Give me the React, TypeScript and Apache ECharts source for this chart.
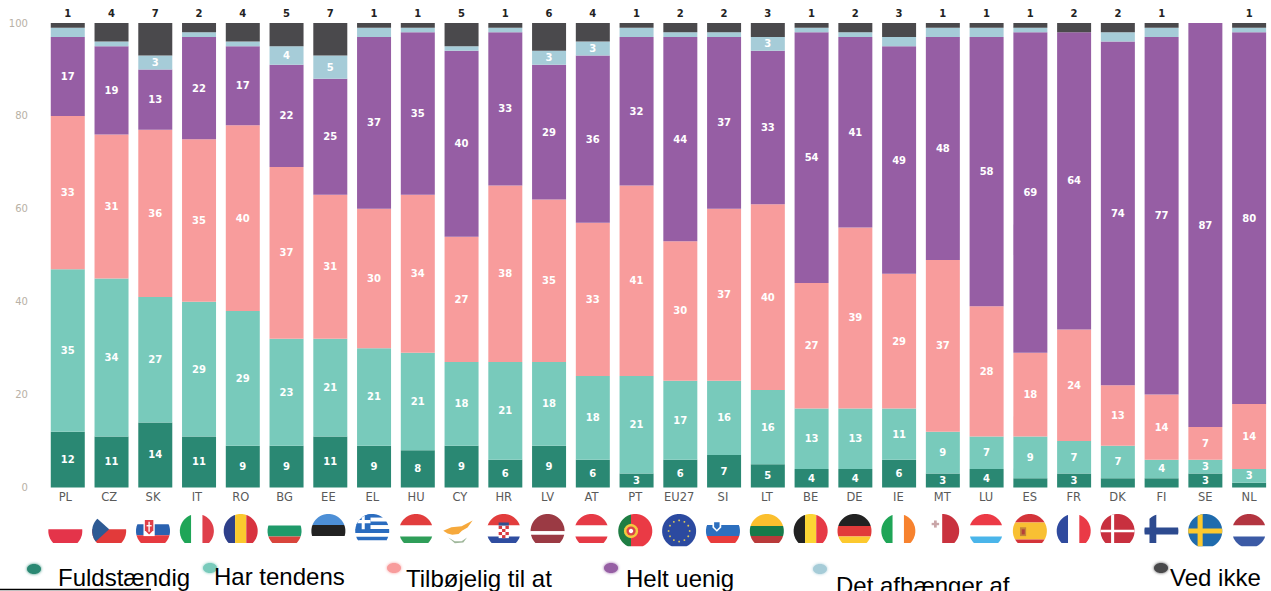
import React, { useEffect, useRef } from "react";
import * as echarts from "echarts";

const categories = ["PL","CZ","SK","IT","RO","BG","EE","EL","HU","CY","HR","LV","AT","PT","EU27","SI","LT","BE","DE","IE","MT","LU","ES","FR","DK","FI","SE","NL"];
const fuldstaendig = [12,11,14,11,9,9,11,9,8,9,6,9,6,3,6,7,5,4,4,6,3,4,2,3,2,2,3,1];
const harTendens = [35,34,27,29,29,23,21,21,21,18,21,18,18,21,17,16,16,13,13,11,9,7,9,7,7,4,3,3];
const tilboejelig = [33,31,36,35,40,37,31,30,34,27,38,35,33,41,30,37,40,27,39,29,37,28,18,24,13,14,7,14];
const heltUenig = [17,19,13,22,17,22,25,37,35,40,33,29,36,32,44,37,33,54,41,49,48,58,69,64,74,77,87,80];
const detAfhaenger = [2,1,3,1,1,4,5,2,1,1,1,3,3,2,1,1,3,1,1,2,2,2,1,0,2,2,0,1];
const vedIkke = [1,4,7,2,4,5,7,1,1,5,1,6,4,1,2,2,3,1,2,3,1,1,1,2,2,1,0,1];
const yTicks = [0, 20, 40, 60, 80, 100];

const legendItems = [
  { name: "Fuldstændig", color: "#2a8873", dotX: 34, dotY: 569, textX: 58, textY: 577 },
  { name: "Har tendens", color: "#78cabb", dotX: 210, dotY: 568, textX: 214, textY: 576 },
  { name: "Tilbøjelig til at", color: "#f89c9c", dotX: 394, dotY: 568, textX: 406, textY: 578 },
  { name: "Helt uenig", color: "#965ea4", dotX: 611, dotY: 568, textX: 626, textY: 578 },
  { name: "Det afhænger af", color: "#a6ccd8", dotX: 820, dotY: 569, textX: 836, textY: 585 },
  { name: "Ved ikke", color: "#4a494c", dotX: 1161, dotY: 568, textX: 1170, textY: 577 },
];

type Pt = [number, number];
type Part = { c: string; p: Pt[]; free?: boolean };

const rect = (c: string, x0: number, y0: number, x1: number, y1: number): Part => ({
  c, p: [[x0, y0], [x1, y0], [x1, y1], [x0, y1]],
});
const hBands = (cols: string[], edges: number[]): Part[] =>
  cols.map((c, i) => rect(c, -1, edges[i], 1, edges[i + 1]));
const vBands = (cols: string[], edges: number[]): Part[] =>
  cols.map((c, i) => rect(c, edges[i], -1, edges[i + 1], 1));
const T3 = [-1, -0.33, 0.33, 1];
const disc = (c: string, x: number, y: number, r: number): Part => {
  const p: Pt[] = [];
  for (let i = 0; i < 16; i++) {
    const a = (i / 16) * Math.PI * 2;
    p.push([x + r * Math.cos(a), y + r * Math.sin(a)]);
  }
  return { c, p, free: true };
};

const greek = (): Part[] => {
  const out: Part[] = [];
  const b = "#2a6cbf";
  for (let i = 0; i < 9; i++) {
    out.push(rect(i % 2 ? "#ffffff" : b, -1, -1 + (i * 2) / 9, 1, -1 + ((i + 1) * 2) / 9));
  }
  out.push(rect(b, -1, -1, -0.1, -0.11));
  out.push(rect("#ffffff", -0.62, -1, -0.44, -0.11));
  out.push(rect("#ffffff", -1, -0.64, -0.1, -0.46));
  return out;
};

const croatia = (): Part[] => {
  const out = hBands(["#e23d3d", "#ffffff", "#2f4da0"], T3);
  out.push(rect("#ffffff", -0.3, -0.3, 0.3, 0.42));
  for (let r = 0; r < 4; r++) {
    for (let q = 0; q < 3; q++) {
      if ((r + q) % 2 === 0) {
        out.push({ ...rect("#d93a40", -0.3 + q * 0.2, -0.3 + r * 0.18, -0.1 + q * 0.2, -0.12 + r * 0.18), free: true });
      }
    }
  }
  out.push({ ...rect("#34508f", -0.3, -0.5, 0.3, -0.32), free: true });
  return out;
};

const euStars = (): Part[] => {
  const out: Part[] = [rect("#2c4aa0", -1, -1, 1, 1)];
  for (let i = 0; i < 12; i++) {
    const a = (i / 12) * Math.PI * 2;
    out.push(disc("#d9c65a", 0.62 * Math.cos(a), 0.62 * Math.sin(a), 0.055));
  }
  return out;
};

const flags: Record<string, { parts: Part[]; full?: boolean }> = {
  PL: { parts: hBands(["#ffffff", "#e4344a"], [-1, -0.1, 1]) },
  CZ: { parts: [...hBands(["#ffffff", "#e23a3a"], [-1, -0.1, 1]), { c: "#2e5a94", p: [[-1, -1], [0, -0.1], [-1, 0.8]] }] },
  SK: { parts: [...hBands(["#ffffff", "#2a62b0", "#e63a40"], [-1, -0.4, 0.25, 1]),
    { ...rect("#ffffff", -0.56, -0.72, 0.1, 0.3), free: true },
    { c: "#e04048", p: [[-0.48, -0.65], [0.02, -0.65], [0.02, -0.05], [-0.23, 0.2], [-0.48, -0.05]], free: true },
    { ...rect("#ffffff", -0.27, -0.55, -0.19, 0.05), free: true },
    { ...rect("#ffffff", -0.38, -0.35, -0.08, -0.27), free: true }] },
  IT: { parts: vBands(["#1fa557", "#ffffff", "#df3f4a"], T3) },
  RO: { parts: vBands(["#2e3f8a", "#fbc92e", "#d8333f"], T3) },
  BG: { parts: hBands(["#ffffff", "#1f9a6a", "#d9453c"], T3) },
  EE: { parts: hBands(["#4d8fd6", "#222222", "#ffffff"], [-1, -0.35, 0.3, 1]) },
  EL: { parts: greek() },
  HU: { parts: hBands(["#e23d3d", "#ffffff", "#2f9e59"], T3) },
  CY: { parts: [
    { c: "#f6a93c", free: true, p: [[-0.98, -0.02], [-0.5, -0.22], [0.1, -0.28], [0.38, -0.42], [0.75, -0.62], [0.45, -0.2], [0.12, -0.02], [-0.08, 0.18], [-0.45, 0.22], [-0.72, 0.15]] },
    { c: "#9fb79a", free: true, p: [[-0.68, 0.38], [-0.3, 0.6], [0.1, 0.6], [0.42, 0.38], [0.2, 0.68], [-0.3, 0.72]] },
  ] },
  HR: { parts: croatia() },
  LV: { parts: hBands(["#9b3a44", "#ffffff", "#9b3a44"], [-1, 0.02, 0.22, 1]) },
  AT: { parts: hBands(["#e63a46", "#ffffff", "#e63a46"], T3) },
  PT: { full: true, parts: [...vBands(["#1e7d43", "#ea3a45"], [-1, -0.25, 1]),
    disc("#f4c83e", -0.25, 0, 0.42), disc("#d9434a", -0.25, 0, 0.27), disc("#ffffff", -0.25, 0, 0.13)] },
  EU27: { full: true, parts: euStars() },
  SI: { parts: [...hBands(["#ffffff", "#2d6fbe", "#e83c3c"], [-1, -0.35, 0.3, 1]),
    { c: "#ffffff", free: true, p: [[-0.62, -0.62], [-0.1, -0.62], [-0.1, -0.2], [-0.36, 0.05], [-0.62, -0.2]] },
    { c: "#2d6fbe", free: true, p: [[-0.52, -0.52], [-0.2, -0.52], [-0.2, -0.24], [-0.36, -0.08], [-0.52, -0.24]] }] },
  LT: { parts: hBands(["#fbbf2e", "#177a4a", "#b93a3a"], [-1, -0.3, 0.3, 1]) },
  BE: { parts: vBands(["#222222", "#fcd634", "#e63a46"], T3) },
  DE: { parts: hBands(["#222222", "#e13a3a", "#fcc92e"], [-1, -0.3, 0.32, 1]) },
  IE: { parts: vBands(["#1fa557", "#ffffff", "#f7822e"], T3) },
  MT: { parts: [...vBands(["#ffffff", "#c9323e"], [-1, 0, 1]),
    { ...rect("#c9a6a8", -0.48, -0.62, -0.32, -0.2), free: true },
    { ...rect("#c9a6a8", -0.62, -0.48, -0.18, -0.34), free: true }] },
  LU: { parts: hBands(["#ec3a46", "#ffffff", "#4ab5ea"], T3) },
  ES: { parts: [...hBands(["#d4343a", "#f8c033", "#d4343a"], [-1, -0.5, 0.5, 1]),
    { ...rect("#c4843a", -0.58, -0.22, -0.22, 0.3), free: true },
    { ...rect("#b5413a", -0.48, -0.1, -0.3, 0.2), free: true }] },
  FR: { parts: vBands(["#2f4a9e", "#ffffff", "#ea3a46"], T3) },
  DK: { parts: [rect("#c8303f", -1, -1, 1, 1), rect("#ffffff", -0.38, -1, -0.2, 1), rect("#ffffff", -1, -0.08, 1, 0.08)] },
  FI: { parts: [rect("#ffffff", -1, -1, 1, 1), rect("#2d4a8f", -0.7, -1, -0.3, 1), rect("#2d4a8f", -1, -0.2, 1, 0.2)] },
  SE: { full: true, parts: [rect("#1f6bad", -1, -1, 1, 1), rect("#fcc92e", -0.45, -1, -0.15, 1), rect("#fcc92e", -1, -0.15, 1, 0.15)] },
  NL: { full: true, parts: hBands(["#b33540", "#ffffff", "#3b5aa5"], T3) },
};

// Clip a unit-circle outline by a convex polygon and by a bottom limit.
const circlePts = (): Pt[] => {
  const p: Pt[] = [];
  for (let i = 0; i < 72; i++) {
    const a = (i / 72) * Math.PI * 2;
    p.push([Math.cos(a), Math.sin(a)]);
  }
  return p;
};
const clipHalf = (poly: Pt[], a: Pt, b: Pt): Pt[] => {
  const side = (q: Pt) => (b[0] - a[0]) * (q[1] - a[1]) - (b[1] - a[1]) * (q[0] - a[0]);
  const out: Pt[] = [];
  for (let i = 0; i < poly.length; i++) {
    const s = poly[i];
    const e = poly[(i + 1) % poly.length];
    const ss = side(s);
    const se = side(e);
    if (ss >= 0) out.push(s);
    if ((ss >= 0) !== (se >= 0)) {
      const t = ss / (ss - se);
      out.push([s[0] + t * (e[0] - s[0]), s[1] + t * (e[1] - s[1])]);
    }
  }
  return out;
};
const clipToFlag = (part: Part, limit: number): Pt[] => {
  let poly = circlePts();
  const n = part.p.length;
  for (let i = 0; i < n; i++) poly = clipHalf(poly, part.p[i], part.p[(i + 1) % n]);
  poly = clipHalf(poly, [1, limit], [-1, limit]);
  return poly;
};

const FLAG_R = 17;
const FLAG_CY = 531;
const CLIP_LIMIT = 0.7;

const renderFlag = (params: any, api: any) => {
  const name = categories[params.dataIndex];
  const flag = flags[name];
  const cx = api.coord([api.value(0), 0])[0];
  const limit = flag.full ? 0.9 : CLIP_LIMIT;
  const children: any[] = [];
  flag.parts.forEach((part) => {
    const pts = part.free ? part.p : clipToFlag(part, limit);
    if (pts.length < 3) return;
    children.push({
      type: "polygon",
      shape: { points: pts.map((q) => [cx + q[0] * FLAG_R, FLAG_CY + q[1] * FLAG_R]) },
      style: { fill: part.c },
    });
  });
  return { type: "group", children };
};

const BAR_WIDTH = 34;
const LABEL_FONT = "DejaVu Sans";

const stackSeries = (name: string, values: number[], color: string, minLabel: number) => ({
  name,
  type: "bar",
  stack: "total",
  xAxisIndex: 0,
  yAxisIndex: 0,
  barWidth: BAR_WIDTH,
  itemStyle: { color },
  label: {
    show: true,
    position: "inside",
    color: "#ffffff",
    fontFamily: LABEL_FONT,
    fontWeight: "bold",
    fontSize: 10,
    formatter: (p: any) => (p.value >= minLabel ? String(p.value) : ""),
  },
  data: values,
});

export default function App() {
  const ref = useRef<HTMLDivElement>(null);
  useEffect(() => {
    if (!ref.current) return;
    const chart = echarts.init(ref.current, undefined, { renderer: "svg" });
    const graphicItems: any[] = [];
    legendItems.forEach((l) => {
      graphicItems.push({
        type: "ellipse",
        shape: { cx: l.dotX, cy: l.dotY, rx: 7, ry: 5 },
        style: { fill: l.color, shadowBlur: 3, shadowColor: l.color },
      });
      graphicItems.push({
        type: "text",
        x: l.textX,
        y: l.textY,
        style: {
          text: l.name,
          fill: "#000000",
          fontFamily: "Liberation Sans",
          fontSize: 24,
          textVerticalAlign: "middle",
        },
      });
    });
    graphicItems.push({
      type: "line",
      shape: { x1: 0, y1: 589.5, x2: 151, y2: 589.5 },
      style: { stroke: "#000000", lineWidth: 1.5 },
    });

    chart.setOption({
      animation: false,
      backgroundColor: "#ffffff",
      grid: [
        { left: 45.9, top: 23, width: 1236.2, height: 464.5 },
        { left: 43.4, top: 23, width: 1240.4, height: 464.5 },
      ],
      xAxis: [
        { type: "category", gridIndex: 0, data: categories, axisLine: { show: false }, axisTick: { show: false }, axisLabel: { show: false } },
        {
          type: "category", gridIndex: 1, data: categories, axisLine: { show: false }, axisTick: { show: false },
          axisLabel: { show: true, interval: 0, color: "#5a5a5a", fontFamily: LABEL_FONT, fontSize: 11.5, margin: 3 },
        },
      ],
      yAxis: [
        {
          type: "value", gridIndex: 0, min: yTicks[0], max: yTicks[yTicks.length - 1], interval: yTicks[1] - yTicks[0],
          axisLine: { show: false }, axisTick: { show: false }, splitLine: { show: false },
          axisLabel: { color: "#b8b1a5", fontFamily: LABEL_FONT, fontSize: 10, margin: 18 },
        },
        { type: "value", gridIndex: 1, min: 0, max: 100, show: false },
      ],
      graphic: graphicItems,
      series: [
        stackSeries("Fuldstændig", fuldstaendig, legendItems[0].color, 3),
        stackSeries("Har tendens", harTendens, legendItems[1].color, 3),
        stackSeries("Tilbøjelig til at", tilboejelig, legendItems[2].color, 1),
        stackSeries("Helt uenig", heltUenig, legendItems[3].color, 1),
        stackSeries("Det afhænger af", detAfhaenger, legendItems[4].color, 3),
        {
          ...stackSeries("Ved ikke", vedIkke, legendItems[5].color, 1),
          label: {
            show: true,
            position: "top",
            distance: 5,
            color: "#222222",
            fontFamily: LABEL_FONT,
            fontWeight: "bold",
            fontSize: 10,
            formatter: (p: any) => (p.value >= 1 ? String(p.value) : ""),
          },
        },
        {
          name: "Flag",
          type: "custom",
          xAxisIndex: 1,
          yAxisIndex: 1,
          clip: false,
          silent: true,
          renderItem: renderFlag,
          data: categories.map((_, i) => [i]),
          encode: { x: 0 },
        },
      ],
    });
    return () => chart.dispose();
  }, []);
  return (
    <div
      ref={ref}
      style={{ position: "fixed", left: 0, top: 0, width: 1271, height: 591, overflow: "hidden", background: "#ffffff" }}
    />
  );
}
